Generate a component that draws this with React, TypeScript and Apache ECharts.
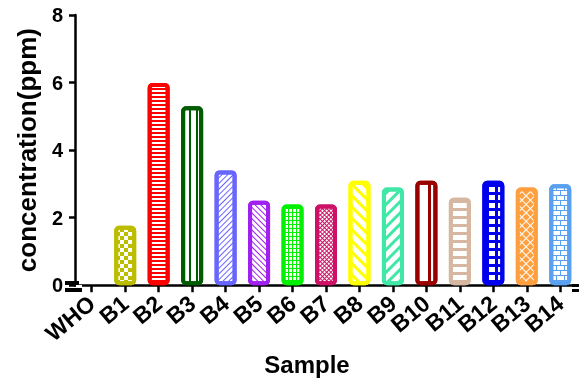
import React, { useEffect, useRef } from "react";
import * as echarts from "echarts";

const categories = ["WHO", "B1", "B2", "B3", "B4", "B5", "B6", "B7", "B8", "B9", "B10", "B11", "B12", "B13", "B14"];
const values = [0, 1.76, 5.99, 5.3, 3.4, 2.5, 2.39, 2.39, 3.09, 2.89, 3.09, 2.59, 3.09, 2.89, 2.99];
const colors = ["#000000", "#bdbd00", "#ff0000", "#005c00", "#6666ff", "#a020f0", "#00f000", "#cc1166", "#ffff00", "#40e8a8", "#990000", "#d6b8a2", "#0000ee", "#ffa040", "#5aa0f0"];
const patterns = ["none", "checker", "hstripe", "vline", "fslash", "bslash", "grid", "finecross", "bslashWide", "fslashWide", "vlineWide", "ladder", "gridBold", "lattice", "brick"];
const yMin = 0;
const yMax = 8;
const yStep = 2;

function decalFor(p: string, c: string): any {
  const base = { color: c, symbol: "rect", symbolSize: 1, symbolKeepAspect: false };
  switch (p) {
    case "checker":
      return { ...base, dashArrayX: [[4, 4], [0, 4, 4, 0]], dashArrayY: [4, 0] };
    case "hstripe":
      return { ...base, dashArrayX: [1, 0], dashArrayY: [2, 2] };
    case "vline":
      return { ...base, dashArrayX: [2, 5], dashArrayY: [1, 0] };
    case "fslash":
      return { ...base, dashArrayX: [1, 0], dashArrayY: [1, 3], rotation: -Math.PI / 4 };
    case "bslash":
      return { ...base, dashArrayX: [1, 0], dashArrayY: [1, 3], rotation: Math.PI / 4 };
    case "grid":
      return { ...base, dashArrayX: [[1, 0], [1, 3]], dashArrayY: [1, 0, 3, 0] };
    case "finecross":
      return { ...base, dashArrayX: [[1, 0], [1, 2]], dashArrayY: [1, 0, 2, 0], rotation: Math.PI / 4 };
    case "bslashWide":
      return { ...base, dashArrayX: [1, 0], dashArrayY: [3, 5], rotation: Math.PI / 4 };
    case "fslashWide":
      return { ...base, dashArrayX: [1, 0], dashArrayY: [3, 5], rotation: -Math.PI / 4 };
    case "vlineWide":
      return { ...base, dashArrayX: [0, 8, 3, 3], dashArrayY: [1, 0] };
    case "ladder":
      return { ...base, dashArrayX: [1, 0], dashArrayY: [3, 5] };
    case "gridBold":
      return { ...base, dashArrayX: [[1, 0], [3, 6]], dashArrayY: [3, 0, 5, 0] };
    case "lattice":
      return { ...base, color: "#ffffff", dashArrayX: [[1, 0], [1, 5]], dashArrayY: [1, 0, 5, 0], rotation: Math.PI / 4 };
    case "brick":
      return { ...base, dashArrayX: [[1, 0], [1, 7], [1, 0], [0, 4, 1, 3]], dashArrayY: [1, 0, 4, 0, 1, 0, 4, 0] };
    default:
      return null;
  }
}

const FONT = 'Arial, "Liberation Sans", sans-serif';

export default function App() {
  const ref = useRef<HTMLDivElement>(null);
  useEffect(() => {
    if (!ref.current) return;
    const chart = echarts.init(ref.current, undefined, { renderer: "svg" });
    const data = values.map((v, i) => {
      const p = patterns[i];
      if (p === "none") {
        return { value: v, itemStyle: { color: "transparent", borderWidth: 0 } };
      }
      const c = colors[i];
      return {
        value: v,
        itemStyle: {
          color: p === "lattice" ? c : "#ffffff",
          borderColor: c,
          borderWidth: 4,
          borderRadius: 3,
          decal: decalFor(p, c),
        },
      };
    });
    chart.setOption({
      animation: false,
      grid: { left: 75, right: 2, top: 15, bottom: 94, containLabel: false },
      xAxis: {
        type: "category",
        data: categories,
        name: "Sample",
        nameLocation: "middle",
        nameGap: 65,
        nameTextStyle: { fontFamily: FONT, fontWeight: "bold", fontSize: 24, color: "#000", padding: [0, 38, 0, 0] },
        axisLine: { show: true, lineStyle: { color: "#000", width: 2.5 } },
        axisTick: { show: true, alignWithLabel: true, length: 7, lineStyle: { color: "#000", width: 2.5 } },
        axisLabel: { rotate: 40, fontFamily: FONT, fontWeight: "bold", fontSize: 23, color: "#000", margin: 15, interval: 0 },
      },
      yAxis: {
        type: "value",
        min: yMin,
        max: yMax,
        interval: yStep,
        name: "concentration(ppm)",
        nameLocation: "middle",
        nameGap: 35,
        nameTextStyle: { fontFamily: FONT, fontWeight: "bold", fontSize: 26, color: "#000" },
        axisLine: { show: true, lineStyle: { color: "#000", width: 2.5 } },
        axisTick: { show: true, length: 6, lineStyle: { color: "#000", width: 2.5 } },
        axisLabel: { fontFamily: FONT, fontWeight: "bold", fontSize: 20, color: "#000", margin: 12 },
        splitLine: { show: false },
      },
      graphic: [
        { type: "rect", shape: { x: 65, y: 281, width: 14, height: 4 }, style: { fill: "#000" }, z: 100 },
        { type: "rect", shape: { x: 65, y: 288, width: 17, height: 4 }, style: { fill: "#000" }, z: 100 },
        { type: "rect", shape: { x: 76, y: 285, width: 6, height: 3 }, style: { fill: "#fff" }, z: 100 },
        { type: "rect", shape: { x: 572, y: 284, width: 7, height: 3 }, style: { fill: "#000" }, z: 100 },
        { type: "rect", shape: { x: 572, y: 289, width: 7, height: 3 }, style: { fill: "#000" }, z: 100 },
      ],
      series: [
        {
          type: "bar",
          data,
          barWidth: 22,
        },
      ],
    });
    return () => chart.dispose();
  }, []);
  return <div ref={ref} style={{ position: "fixed", left: 0, top: 0, width: 579, height: 381 }} />;
}
